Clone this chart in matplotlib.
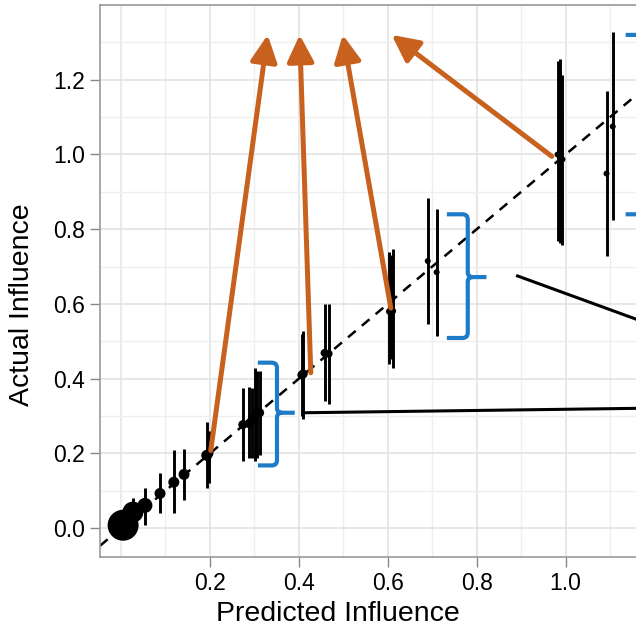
import numpy as np
import matplotlib
matplotlib.use("Agg")
import matplotlib.pyplot as plt
from matplotlib.patches import FancyArrowPatch
from matplotlib.path import Path
from matplotlib.patches import PathPatch

plt.rcParams['font.family'] = ['Liberation Sans', 'DejaVu Sans']

# predicted vs actual influence, with error ranges
pred = [0.005, 0.027, 0.054, 0.088, 0.119, 0.142, 0.193, 0.198,
        0.274, 0.288, 0.294, 0.301, 0.306, 0.312,
        0.407, 0.410, 0.458, 0.467,
        0.604, 0.608, 0.611, 0.690, 0.710,
        0.982, 0.988, 0.993, 1.092, 1.106]
actual = [0.008, 0.043, 0.061, 0.093, 0.123, 0.144, 0.195, 0.200,
          0.277, 0.280, 0.288, 0.301, 0.307, 0.309,
          0.410, 0.413, 0.469, 0.467,
          0.580, 0.581, 0.581, 0.715, 0.685,
          1.000, 1.005, 0.987, 0.949, 1.075]
lo = [0.000, 0.020, 0.008, 0.040, 0.040, 0.075, 0.107, 0.120,
      0.181, 0.187, 0.187, 0.181, 0.189, 0.195,
      0.300, 0.293, 0.341, 0.333,
      0.440, 0.453, 0.429, 0.547, 0.515,
      0.768, 0.762, 0.757, 0.728, 0.824]
hi = [0.020, 0.080, 0.107, 0.147, 0.208, 0.213, 0.283, 0.260,
      0.376, 0.379, 0.376, 0.429, 0.421, 0.421,
      0.520, 0.528, 0.600, 0.600,
      0.740, 0.730, 0.747, 0.883, 0.853,
      1.251, 1.255, 1.213, 1.171, 1.328]
# marker diameter (px), bigger = more samples
size_px = [31, 21, 15, 11, 11, 11, 11, 9,
           9, 9, 9, 9, 9, 9,
           9, 9, 8, 8,
           7, 7, 7, 6, 6,
           6, 6, 6, 6, 6]

# arrows: (tail x, tail y, head x, head y)
arrow_tail_x = [0.202, 0.427, 0.607, 0.969]
arrow_tail_y = [0.208, 0.416, 0.589, 0.995]
arrow_head_x = [0.330, 0.402, 0.499, 0.609]
arrow_head_y = [1.320, 1.320, 1.320, 1.320]

# brackets: left x, spine x, nib x, top y, nib y, bottom y
brace_x0 = [0.308, 0.733, 1.135]
brace_x1 = [0.351, 0.780, 1.178]
brace_xn = [0.391, 0.822, 1.220]
brace_top = [0.443, 0.840, 1.320]
brace_mid = [0.309, 0.672, 1.080]
brace_bot = [0.168, 0.509, 0.840]

# leader lines out to the right
leader_x = [[0.413, 1.30], [0.892, 1.30]]
leader_y = [[0.309, 0.323], [0.675, 0.498]]

orange = '#C8601E'
blue = '#1E7BC8'

dpi = 100
fig = plt.figure(figsize=(6.36, 6.28), dpi=dpi)
ax = fig.add_axes([100/636, 71/628, 599/636, 552/628])

ax.set_xlim(-0.047, 1.30)
ax.set_ylim(-0.077, 1.395)

ax.set_xticks([0.2, 0.4, 0.6, 0.8, 1.0])
ax.set_yticks([0.0, 0.2, 0.4, 0.6, 0.8, 1.0, 1.2])
ax.set_xticks(np.arange(0.0, 1.31, 0.1), minor=True)
ax.set_yticks(np.arange(0.0, 1.41, 0.1), minor=True)
ax.xaxis.set_major_formatter(matplotlib.ticker.FormatStrFormatter('%.1f'))
ax.yaxis.set_major_formatter(matplotlib.ticker.FormatStrFormatter('%.1f'))
ax.grid(which='major', color='#e3e3e3', lw=1.2)
ax.grid(which='minor', color='#efefef', lw=1.0)
for gx in (0.0, 1.2):
    ax.axvline(gx, color='#e3e3e3', lw=1.2, zorder=0.5)
ax.set_axisbelow(True)
ax.tick_params(which='major', direction='out', length=7, width=1.0, color='#888888',
               labelsize=16.5, pad=4)
ax.tick_params(which='minor', length=0)
for s in ax.spines.values():
    s.set_color('#999999')
    s.set_linewidth(1.2)

ax.axline((0, 0), slope=1, color='black', ls=(0, (4, 3.2)), lw=1.8, zorder=2)

ax.vlines(pred, lo, hi, color='black', lw=2.1, zorder=3)
diam_pt = np.array(size_px) * 72 / dpi
ax.scatter(pred, actual, s=diam_pt**2, color='black', zorder=4, linewidths=0)

for tx, ty, hx, hy in zip(arrow_tail_x, arrow_tail_y, arrow_head_x, arrow_head_y):
    ax.add_patch(FancyArrowPatch((tx, ty), (hx, hy), arrowstyle='-|>,head_length=0.9,head_width=0.45',
                                 mutation_scale=18, color=orange, lw=3.6,
                                 shrinkA=0, shrinkB=0, zorder=5))

for x0, x1, xn, yt, ym, yb in zip(brace_x0, brace_x1, brace_xn, brace_top, brace_mid, brace_bot):
    r = 0.012
    verts = [(x0, yt), (x1 - r, yt), (x1, yt), (x1, yt - r * 1.2),
             (x1, ym + r), (x1, ym), (x1 + r, ym), (xn, ym),
             (x1 + r, ym), (x1, ym), (x1, ym - r),
             (x1, yb + r * 1.2), (x1, yb), (x1 - r, yb), (x0, yb)]
    codes = [Path.MOVETO, Path.LINETO, Path.CURVE3, Path.CURVE3,
             Path.LINETO, Path.CURVE3, Path.CURVE3, Path.LINETO,
             Path.MOVETO, Path.CURVE3, Path.CURVE3,
             Path.LINETO, Path.CURVE3, Path.CURVE3, Path.LINETO]
    ax.add_patch(PathPatch(Path(verts, codes), fill=False, edgecolor=blue, lw=3.0,
                           capstyle='butt', joinstyle='round', zorder=5))

for lx, ly in zip(leader_x, leader_y):
    ax.plot(lx, ly, color='black', lw=2.2, zorder=3)

ax.set_xlabel('Predicted Influence', fontsize=20.5)
ax.set_ylabel('Actual Influence', fontsize=20.5)
ax.xaxis.set_label_coords((338 - 100) / 599, -(621 - 557) / 552, transform=ax.transAxes)
ax.yaxis.set_label_coords(-(100 - 22) / 599, (557 - 305) / 552, transform=ax.transAxes)
ax.xaxis.label.set_va('baseline')
ax.yaxis.label.set_va('center')

fig.savefig('out.png', dpi=dpi)
